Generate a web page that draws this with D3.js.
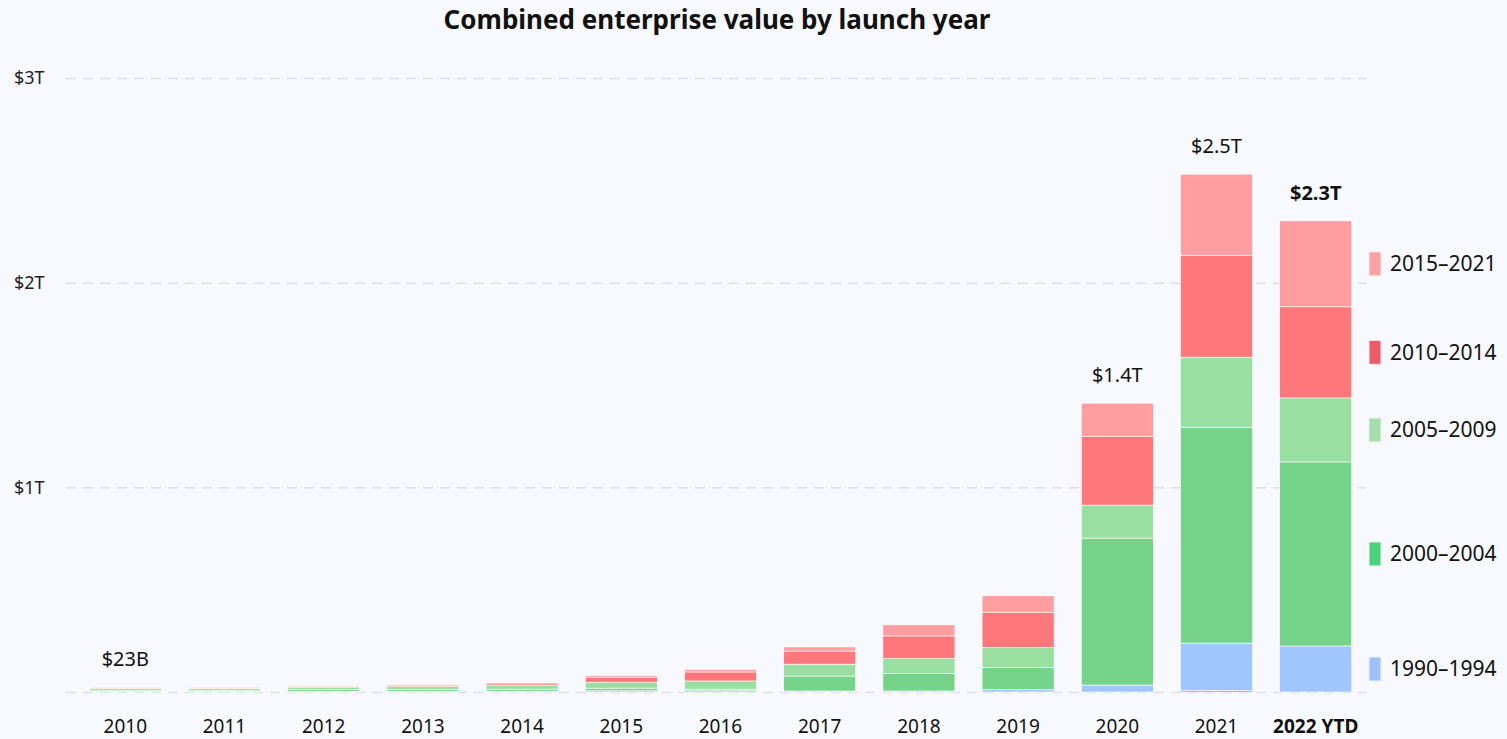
<!DOCTYPE html>
<html>
<head>
<meta charset="utf-8">
<script src="https://cdn.jsdelivr.net/npm/d3@7"></script>
<style>
  html, body { margin: 0; padding: 0; background: #f8f9fe; }
  svg { display: block; font-family: "Noto Sans", sans-serif; }
</style>
</head>
<body>
<svg width="1507" height="739"></svg>
<script>
// launch years on the x axis
var years = ["2010", "2011", "2012", "2013", "2014", "2015", "2016", "2017", "2018", "2019", "2020", "2021", "2022 YTD"];

// cohorts, bottom of the stack first ("older" is the thin unlabeled sliver)
var cohorts = ["older", "1990–1994", "2000–2004", "2005–2009", "2010–2014", "2015–2021"];

// enterprise value per cohort, in $T
var olderValues = [0, 0, 0, 0, 0, 0, 0, 0, 0, 0, 0, 0.008, 0];
var v1990 = [0.003, 0.003, 0.004, 0.004, 0.004, 0.006, 0.006, 0.005, 0.005, 0.011, 0.034, 0.231, 0.225];
var v2000 = [0.006, 0.006, 0.008, 0.008, 0.010, 0.013, 0.008, 0.073, 0.086, 0.109, 0.718, 1.055, 0.899];
var v2005 = [0.008, 0.009, 0.012, 0.014, 0.020, 0.029, 0.040, 0.058, 0.073, 0.098, 0.161, 0.342, 0.313];
var v2010 = [0.002, 0.002, 0.003, 0.004, 0.010, 0.024, 0.044, 0.064, 0.110, 0.172, 0.337, 0.498, 0.445];
var v2015 = [0.004, 0.004, 0.004, 0.006, 0.003, 0.007, 0.012, 0.020, 0.054, 0.080, 0.161, 0.396, 0.420];

// total labels above some bars
var totalLabels = ["$23B", "", "", "", "", "", "", "", "", "", "$1.4T", "$2.5T", "$2.3T"];

// y axis ticks
var yTicks = [1, 2, 3];
var yTickLabels = ["$1T", "$2T", "$3T"];

var barColors = ["#6f9ef0", "#a0c6fe", "#75d38a", "#98dfa1", "#ff767b", "#ff9da0"];
var legendColors = ["#6f9ef0", "#9cc1fd", "#4bd07c", "#a6dfae", "#ee5b68", "#ffa0a4"];

var seriesValues = [olderValues, v1990, v2000, v2005, v2010, v2015];

// build table rows for d3.stack
var table = years.map(function(y, i) {
  var row = {year: y};
  cohorts.forEach(function(c, j) { row[c] = seriesValues[j][i]; });
  return row;
});

var stacked = d3.stack().keys(cohorts)(table);

var svg = d3.select("svg");

var x = d3.scaleBand()
    .domain(years)
    .range([75, 1366])
    .paddingInner(0.274)
    .paddingOuter(0.144);

var y = d3.scaleLinear()
    .domain([0, 3])
    .range([692, 78]);

// title
svg.append("text")
    .attr("x", 717)
    .attr("y", 29)
    .attr("text-anchor", "middle")
    .attr("font-size", 26)
    .attr("font-weight", "bold")
    .attr("fill", "#111")
    .text("Combined enterprise value by launch year");

// gridlines + baseline
svg.append("g")
  .selectAll("line")
  .data([0].concat(yTicks))
  .enter().append("line")
    .attr("x1", 66)
    .attr("x2", 1366)
    .attr("y1", function(d) { return y(d) + 0.5; })
    .attr("y2", function(d) { return y(d) + 0.5; })
    .attr("stroke", "#dde0e8")
    .attr("stroke-width", 1.5)
    .attr("stroke-dasharray", "10,7");

// y tick labels
svg.append("g")
  .selectAll("text")
  .data(yTicks)
  .enter().append("text")
    .attr("x", 14)
    .attr("y", function(d) { return y(d); })
    .attr("dy", "0.35em")
    .attr("font-size", 18)
    .attr("fill", "#222")
    .text(function(d, i) { return yTickLabels[i]; });

// stacked bars
var layer = svg.append("g")
  .selectAll("g")
  .data(stacked)
  .enter().append("g")
    .attr("fill", function(d, i) { return barColors[i]; });

layer.selectAll("rect")
  .data(function(d) { return d; })
  .enter().append("rect")
    .attr("x", function(d) { return x(d.data.year); })
    .attr("y", function(d) { return y(d[1]); })
    .attr("width", x.bandwidth())
    .attr("height", function(d) { return Math.max(0, y(d[0]) - y(d[1])); })
    .attr("stroke", "#ffffff")
    .attr("stroke-width", 0.6);

// totals above bars (topLayer, since "top" is taken by window)
var topLayer = stacked[stacked.length - 1];
svg.append("g")
  .selectAll("text")
  .data(topLayer)
  .enter().append("text")
    .attr("x", function(d) { return x(d.data.year) + x.bandwidth() / 2; })
    .attr("y", function(d) { return y(d[1]) - 21; })
    .attr("text-anchor", "middle")
    .attr("font-size", 20)
    .attr("font-weight", function(d, i) { return i === years.length - 1 ? "bold" : "normal"; })
    .attr("fill", "#111")
    .text(function(d, i) { return totalLabels[i]; });

// x axis labels
svg.append("g")
  .selectAll("text")
  .data(years)
  .enter().append("text")
    .attr("x", function(d) { return x(d) + x.bandwidth() / 2; })
    .attr("y", 733)
    .attr("text-anchor", "middle")
    .attr("font-size", 19)
    .attr("font-weight", function(d, i) { return i === years.length - 1 ? "bold" : "normal"; })
    .attr("fill", "#111")
    .text(function(d) { return d; });

// legend, lined up with the segments of the last bar
var last = years.length - 1;
var legendItems = stacked.slice(1);
var legend = svg.append("g")
  .selectAll("g")
  .data(legendItems)
  .enter().append("g")
    .attr("transform", function(d) {
      var mid = (y(d[last][0]) + y(d[last][1])) / 2;
      return "translate(1369," + mid + ")";
    });

legend.append("rect")
    .attr("x", 0)
    .attr("y", -12)
    .attr("width", 12)
    .attr("height", 24)
    .attr("fill", function(d, i) { return legendColors[i + 1]; })
    .attr("stroke", "#eef0f4")
    .attr("stroke-width", 1);

legend.append("text")
    .attr("x", 21)
    .attr("dy", "0.35em")
    .attr("font-size", 21)
    .attr("fill", "#111")
    .text(function(d) { return d.key; });
</script>
</body>
</html>
